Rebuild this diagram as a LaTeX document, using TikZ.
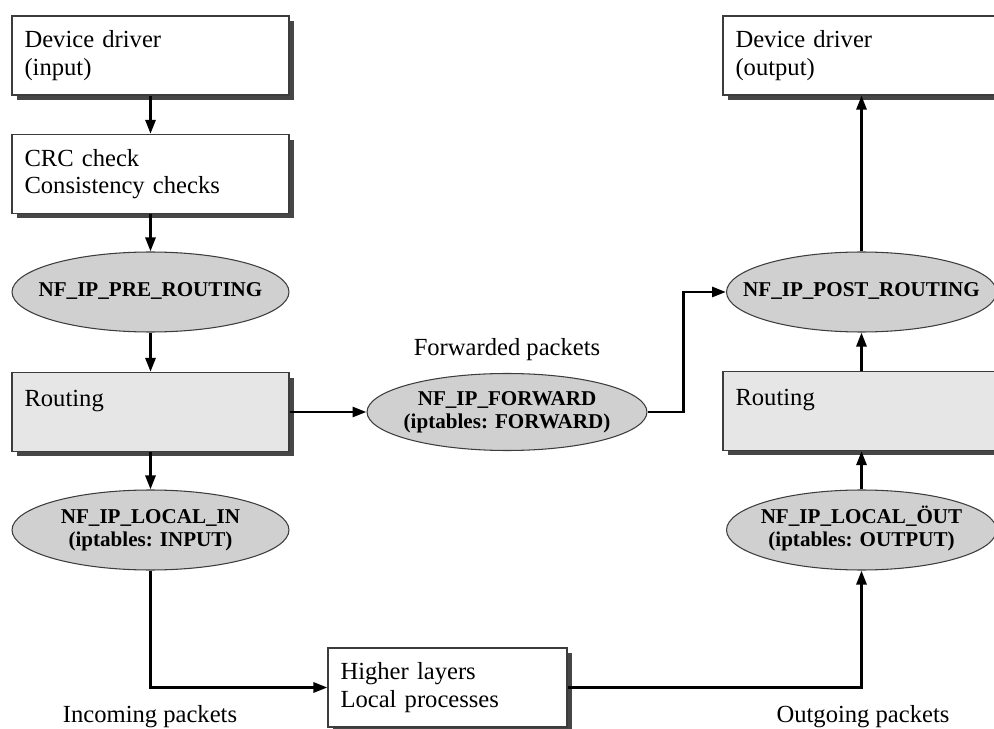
\documentclass[tikz,border=0pt]{standalone}
\usepackage{fontspec}
\setmainfont{Liberation Serif}
\usepackage{tikz}
\usetikzlibrary{shapes.geometric, arrows.meta, positioning, shadows}
\definecolor{shadowgray}{RGB}{70, 70, 70}
\definecolor{hookgray}{RGB}{208, 208, 208}
\definecolor{routegray}{RGB}{230, 230, 230}
\definecolor{edgegray}{RGB}{60, 60, 60}
\newcommand{\hooklabel}[1]{\makebox[0pt]{\begin{tabular}{@{}c@{}}#1\end{tabular}}}

\begin{document}
\begin{tikzpicture}[x=0.02cm, y=-0.02cm,
    stage/.style={rectangle, draw=edgegray, line width=0.7pt, fill=white, minimum width=5.54cm, minimum height=1.58cm, inner xsep=0.25cm, text width=5.04cm, align=left, font=\fontsize{14}{15.5}\selectfont, drop shadow={shadow xshift=0.1cm, shadow yshift=-0.1cm, opacity=1, fill=shadowgray}},
    routebox/.style={stage, fill=routegray},
    hook/.style={ellipse, draw=edgegray, line width=0.6pt, fill=hookgray, minimum width=5.54cm, minimum height=1.6cm, inner sep=0pt, font=\fontsize{12}{13.2}\selectfont\bfseries},
    flow/.style={line width=1.6pt, -{Triangle[length=0.28cm, width=0.2cm]}},
    tag/.style={font=\fontsize{14}{15.5}\selectfont}
]
    \useasboundingbox (0,0) rectangle (994,729);
    \clip (0,0) rectangle (994,729);

    % incoming side
    \node[stage] (drvin) at (150.5,55.5) {Device driver\\(input)};
    \node[stage] (crc) at (150.5,174) {CRC check\\Consistency checks};
    \node[hook] (pre) at (150.5,292) {\hooklabel{NF\_IP\_PRE\_ROUTING}};
    \node[routebox] (routin) at (150.5,412) {Routing\\~};
    \node[hook] (localin) at (150.5,530) {\hooklabel{NF\_IP\_LOCAL\_IN\\(iptables: INPUT)}};

    % forwarding
    \node[hook, minimum width=5.6cm, minimum height=1.54cm] (fwd) at (507,412) {\hooklabel{NF\_IP\_FORWARD\\(iptables: FORWARD)}};
    \node[tag] (fwdtag) at (507,350) {Forwarded packets};

    % outgoing side
    \node[stage] (drvout) at (861.5,55.5) {Device driver\\(output)};
    \node[hook, minimum width=5.4cm] (post) at (861.5,292) {\hooklabel{NF\_IP\_POST\_ROUTING}};
    \node[routebox] (routout) at (861.5,411) {Routing\\~};
    \node[hook, minimum width=5.4cm] (localout) at (861.5,530) {\hooklabel{NF\_IP\_LOCAL\_ÖUT\\(iptables: OUTPUT)}};

    % local delivery
    \node[stage, minimum width=4.78cm, text width=4.28cm] (higher) at (447.5,687.5) {Higher layers\\Local processes};
    \node[tag] (intag) at (150,717) {Incoming packets};
    \node[tag] (outtag) at (863,717) {Outgoing packets};

    \draw[flow] (drvin) -- (crc);
    \draw[flow] (crc) -- (pre);
    \draw[flow] (pre) -- (routin);
    \draw[flow] (routin) -- (localin);
    \draw[flow] (routin) -- (fwd);
    \draw[flow] (fwd.east) -- ++(36,0) |- (post.west);
    \draw[flow] (localin) |- (higher);
    \draw[flow] (higher) -| (localout);
    \draw[flow] (localout) -- (routout);
    \draw[flow] (routout) -- (post);
    \draw[flow] (post) -- (drvout);
\end{tikzpicture}
\end{document}
